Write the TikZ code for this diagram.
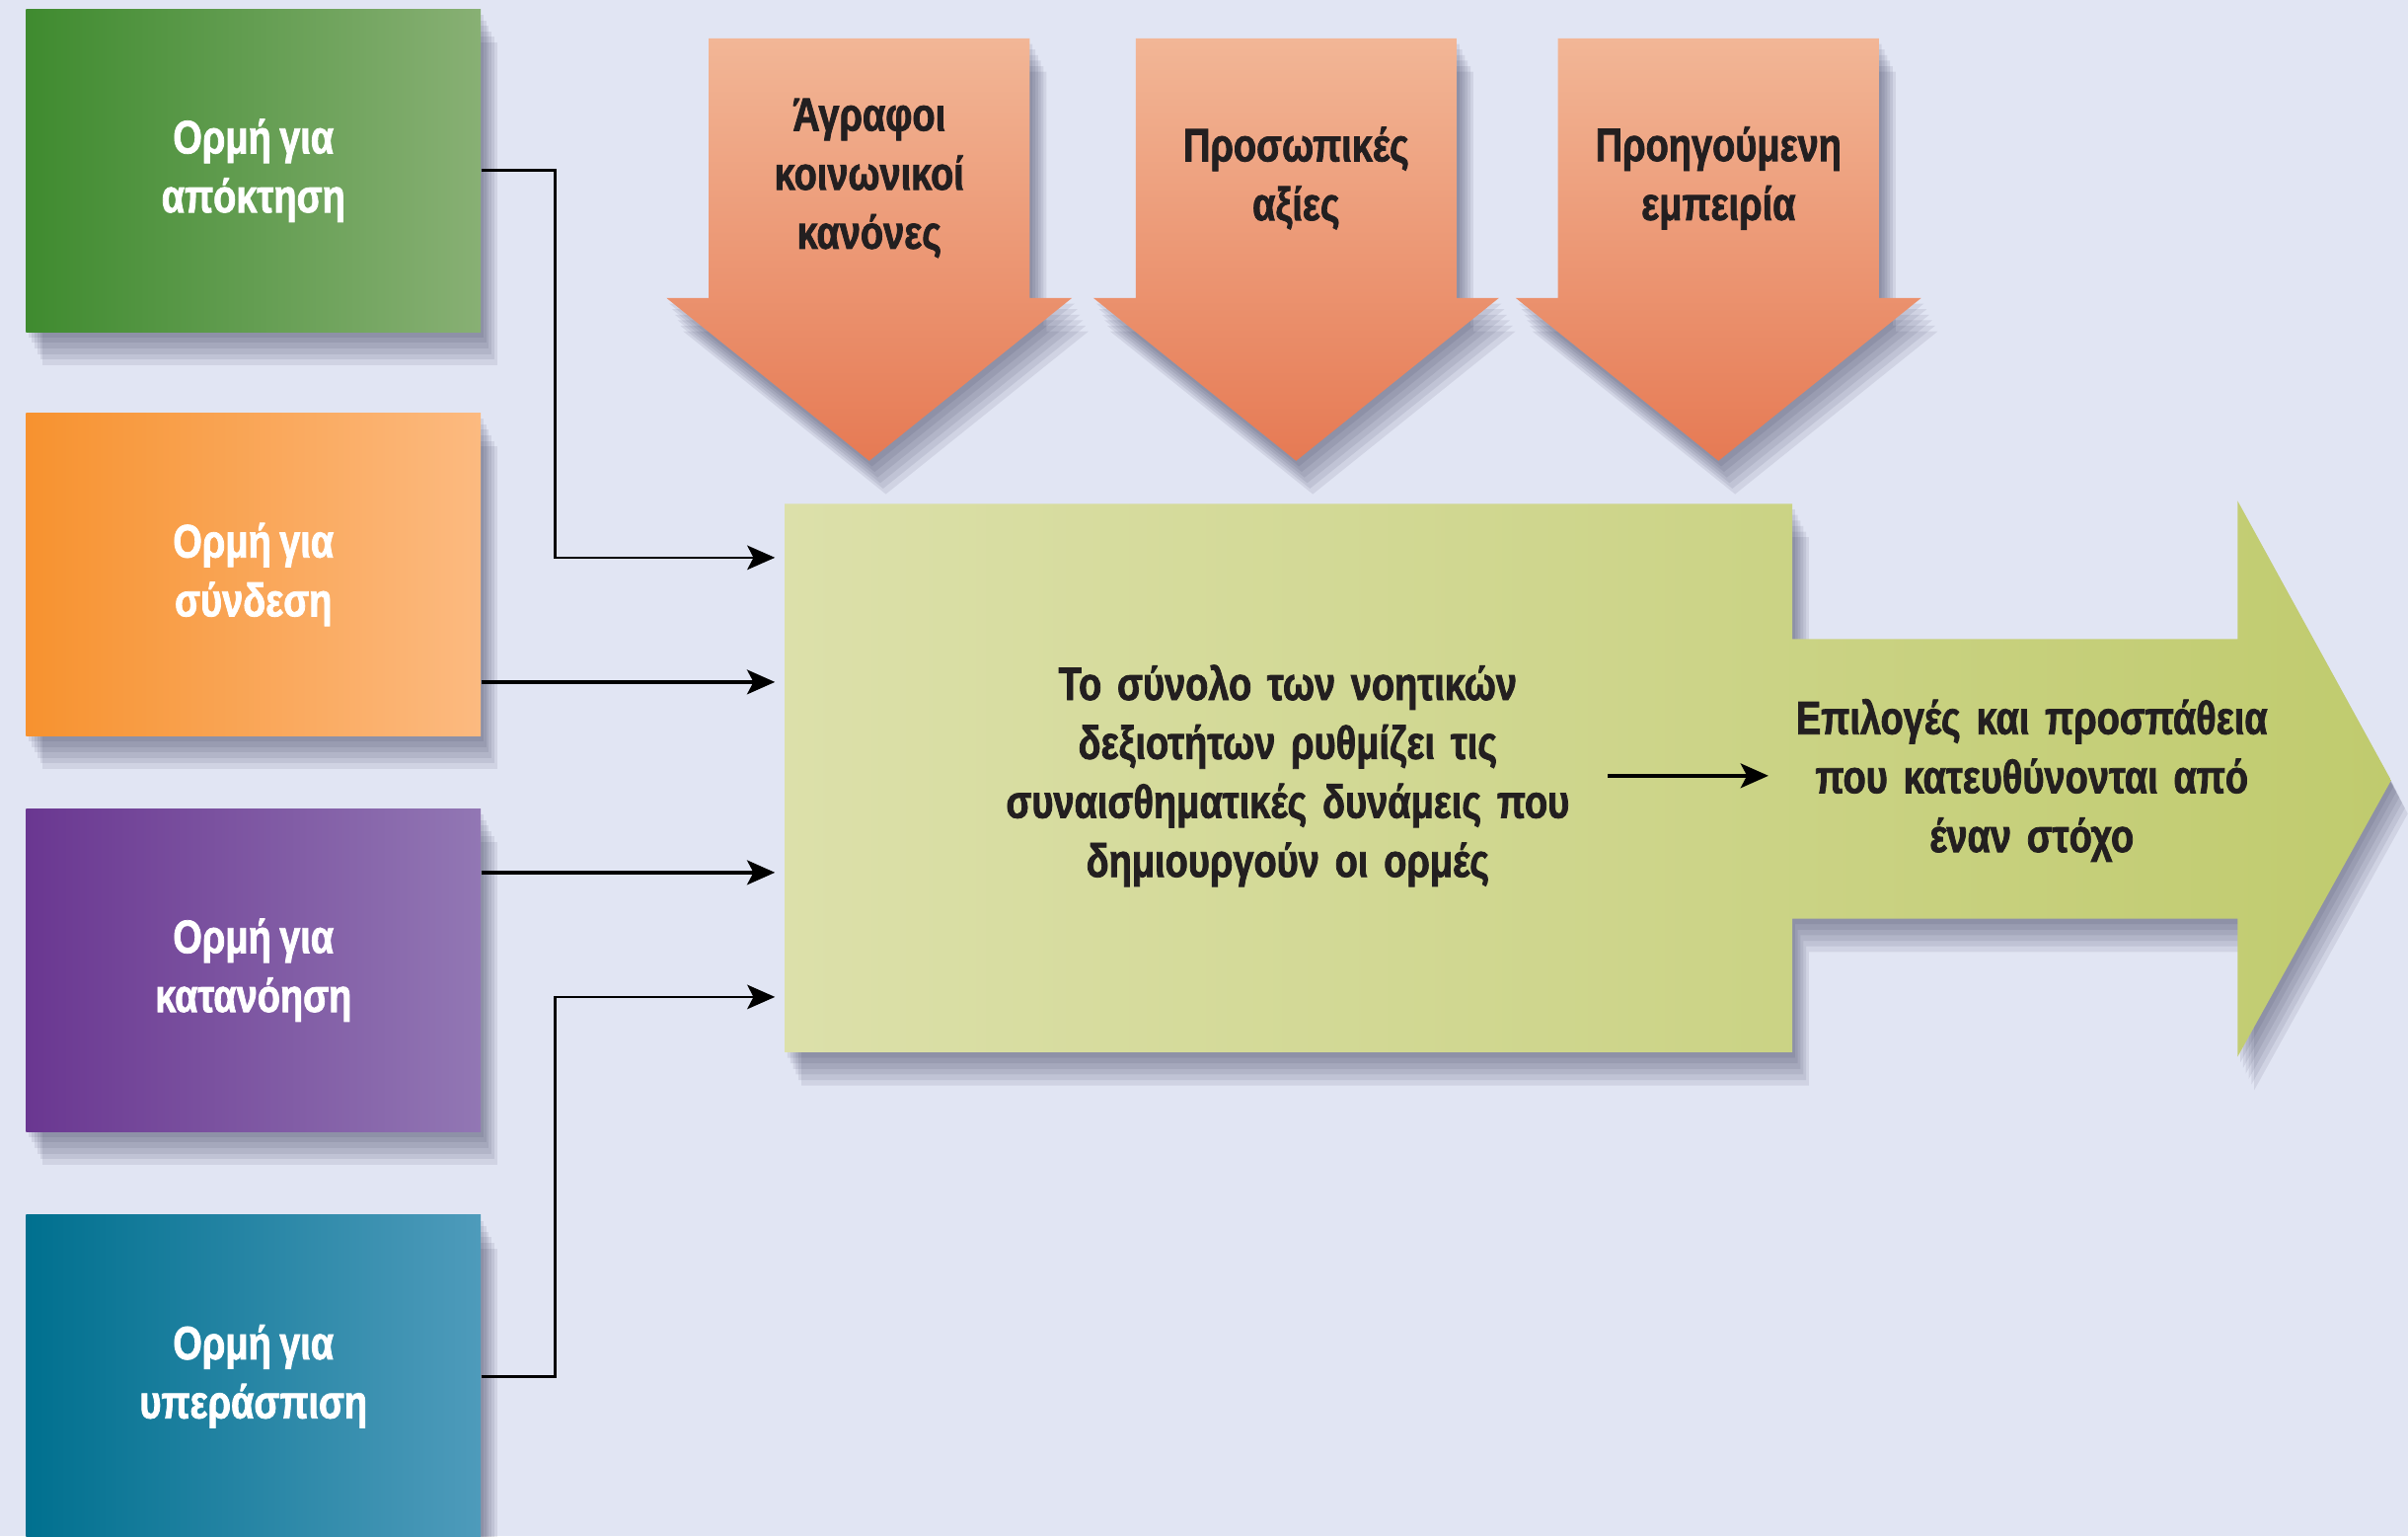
\documentclass[tikz,border=0pt]{standalone}
\usepackage{fontspec}
\newfontfamily\labelfont{Liberation Sans Bold}[FakeStretch=0.8, FakeBold=1.6, WordSpace=0.8]
\usetikzlibrary{arrows.meta,shadows}
\definecolor{bgblue}{HTML}{E1E5F3}
\definecolor{ink}{HTML}{231F20}
\definecolor{shadowink}{HTML}{28284A}
\definecolor{greenA}{HTML}{3F8B2F}
\definecolor{greenB}{HTML}{88B074}
\definecolor{orangeA}{HTML}{F7922F}
\definecolor{orangeB}{HTML}{FCBA80}
\definecolor{purpleA}{HTML}{6A3791}
\definecolor{purpleB}{HTML}{9277B4}
\definecolor{tealA}{HTML}{00708F}
\definecolor{tealM}{HTML}{0A88AB}
\definecolor{tealB}{HTML}{4E9BBB}
\definecolor{salmonA}{HTML}{F2B696}
\definecolor{salmonB}{HTML}{E67A54}
\definecolor{oliveA}{HTML}{DCE0AA}
\definecolor{oliveB}{HTML}{C0CB6E}
\tikzset{
	shadowed/.style={
		drop shadow={shadow xshift=0.8pt, shadow yshift=-1.6pt, fill=shadowink, opacity=0.09},
		drop shadow={shadow xshift=1.6pt, shadow yshift=-3.2pt, fill=shadowink, opacity=0.09},
		drop shadow={shadow xshift=2.4pt, shadow yshift=-4.8pt, fill=shadowink, opacity=0.09},
		drop shadow={shadow xshift=3.2pt, shadow yshift=-6.4pt, fill=shadowink, opacity=0.09},
		drop shadow={shadow xshift=4pt, shadow yshift=-8pt, fill=shadowink, opacity=0.09},
		drop shadow={shadow xshift=4.8pt, shadow yshift=-9.6pt, fill=shadowink, opacity=0.09}},
	textstyle/.style={align=center, font=\labelfont\fontsize{13.5}{17}\selectfont},
	drive/.style={textstyle, shadowed, text=white, inner sep=0pt, minimum width=4.606cm, minimum height=3.268cm},
	factor/.style={shade, top color=salmonA, bottom color=salmonB, shadowed},
	label/.style={textstyle, text=ink, inner sep=0pt},
	thinlink/.style={line width=0.7pt, -{Stealth[length=8pt,width=7pt,inset=1.8pt]}},
	thicklink/.style={line width=1.25pt, -{Stealth[length=8pt,width=7pt,inset=1.8pt]}}
}
\def\dropshape[#1](#2,#3){\path[#1] (#2-104.5,#3) -- (#2+104.5,#3) -- (#2+104.5,#3+169) -- (#2+132,#3+169) -- (#2,#3+275) -- (#2-132,#3+169) -- (#2-104.5,#3+169) -- cycle;}

\begin{document}
\begin{tikzpicture}[x=0.01556cm, y=-0.01556cm]
			%%%%% START %%%%%
			
			\useasboundingbox (0,0) rectangle (1568,1000);
			\fill[bgblue] (0,0) rectangle (1568,1000);
			
			% drives
			\node[drive, left color=greenA, right color=greenB] (acquire) at (165,111) {Ορμή για\\απόκτηση};
			\node[drive, left color=orangeA, right color=orangeB] (bond) at (165,374) {Ορμή για\\σύνδεση};
			\node[drive, left color=purpleA, right color=purpleB] (learn) at (165,631.5) {Ορμή για\\κατανόηση};
			\node[drive, left color=tealA, middle color=tealM, right color=tealB] (defend) at (165,896) {Ορμή για\\υπεράσπιση};
			
			% influences
			\dropshape[factor](566,25);
			\dropshape[factor](844,25);
			\dropshape[factor](1119,25);
			\node[label] (norms) at (566,116) {Άγραφοι\\κοινωνικοί\\κανόνες};
			\node[label] (values) at (844,116) {Προσωπικές\\αξίες};
			\node[label] (experience) at (1119,116) {Προηγούμενη\\εμπειρία};
			
			% mind and goal arrow
			\path[shade, left color=oliveA, right color=oliveB, shadowed] (511,328) -- (1167,328) -- (1167,416) -- (1457,416) -- (1457,326) -- (1557,508) -- (1457,688) -- (1457,598) -- (1167,598) -- (1167,685) -- (511,685) -- cycle;
			\node[minimum width=10.207cm, minimum height=5.555cm, inner sep=0pt] (mindbox) at (839,506.5) {};
			\node[label, text width=6.2cm, inner xsep=0.136cm] (mind) at (838.5,505) {Το σύνολο των νοητικών\\δεξιοτήτων ρυθμίζει τις\\συναισθηματικές δυνάμεις που\\δημιουργούν οι ορμές};
			\node[label, text width=5cm, inner xsep=0.161cm] (goal) at (1323,508) {Επιλογές και προσπάθεια\\που κατευθύνονται από\\έναν στόχο};
			
			\path (mindbox.west) ++(-6,-143.5) coordinate (in1);
			\path (mindbox.west) ++(-6,-62.5) coordinate (in2);
			\path (mindbox.west) ++(-6,61.5) coordinate (in3);
			\path (mindbox.west) ++(-6,142.5) coordinate (in4);
			
			\draw[thinlink] (acquire.east) -- ++(48,0) |- (in1);
			\draw[thicklink] (bond.east |- in2) -- (in2);
			\draw[thicklink] (learn.east |- in3) -- (in3);
			\draw[thinlink] (defend.east) -- ++(48,0) |- (in4);
			\draw[thicklink] (mind.east) -- (mind.east -| goal.west);
			
			%%%%% END %%%%%
\end{tikzpicture}
\end{document}
